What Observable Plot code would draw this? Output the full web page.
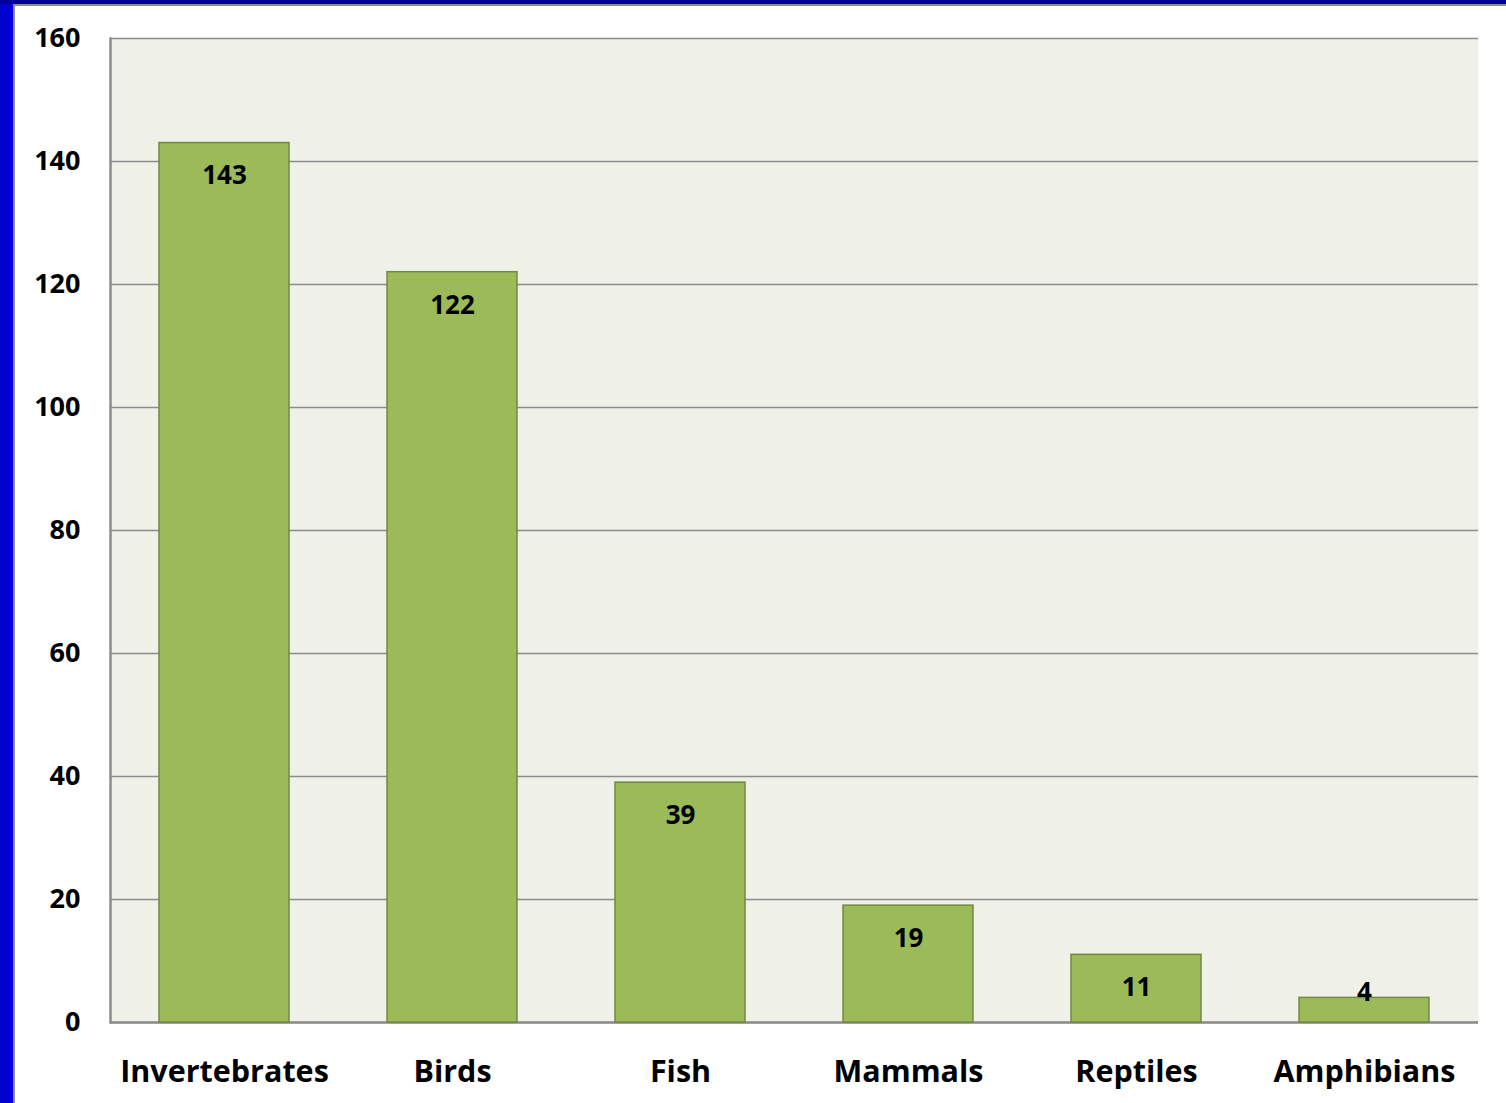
<!DOCTYPE html>
<html>
<head>
<meta charset="utf-8">
<script src="https://cdn.jsdelivr.net/npm/d3@7"></script>
<script src="https://cdn.jsdelivr.net/npm/@observablehq/plot@0.6"></script>
<style>
  html, body { margin: 0; padding: 0; }
  body { width: 1506px; height: 1103px; position: relative; overflow: hidden; background: #ffffff; font-family: "Open Sans", Lato, sans-serif; }
  #blueLeft { position: absolute; left: 0; top: 0; width: 13px; height: 1103px; background: linear-gradient(to right, #0000c8, #0000e0); }
  #blueTop { position: absolute; left: 0; top: 0; width: 1506px; height: 4px; background: #00009a; }
  #grayLeft { position: absolute; left: 13px; top: 4px; width: 2px; height: 1099px; background: #8c8c8c; }
  #grayTop { position: absolute; left: 13px; top: 4px; width: 1493px; height: 2px; background: #8c8c8c; }
  #chart { position: absolute; left: 0; top: 0; }
</style>
</head>
<body>
<div id="blueLeft"></div>
<div id="blueTop"></div>
<div id="grayLeft"></div>
<div id="grayTop"></div>
<div id="chart"></div>
<script>
const categories = ["Invertebrates", "Birds", "Fish", "Mammals", "Reptiles", "Amphibians"];
const counts = [143, 122, 39, 19, 11, 4];
const yTicks = [0, 20, 40, 60, 80, 100, 120, 140, 160];

const data = categories.map((c, i) => ({category: c, value: counts[i]}));
const FONT = "'Open Sans', Lato, sans-serif";

const chart = Plot.plot({
  width: 1506,
  height: 1103,
  marginLeft: 110,
  marginRight: 28,
  marginTop: 38,
  marginBottom: 81,
  style: {background: "transparent", fontFamily: FONT, overflow: "visible"},
  x: {domain: categories, paddingInner: 0.43, paddingOuter: 0.215, label: null},
  y: {domain: [0, 160], label: null},
  marks: [
    Plot.frame({fill: "#eff1e8", stroke: null}),
    Plot.gridY(yTicks, {stroke: "#8c8c8c", strokeOpacity: 1, strokeWidth: 1.6}),
    Plot.frame({anchor: "left", stroke: "#8c8c8c", strokeWidth: 2.5}),
    Plot.ruleY([0], {stroke: "#8c8c8c", strokeWidth: 2.5}),
    Plot.barY(data, {x: "category", y: "value", fill: "#9bbb59", stroke: "#71893f", strokeWidth: 1.5}),
    Plot.text(data.filter(d => d.value >= 8), {x: "category", y: "value", text: d => String(d.value), dy: 33, lineAnchor: "middle", fontSize: 26, fontWeight: "bold", fill: "#000"}),
    Plot.text(data.filter(d => d.value < 8), {x: "category", y: "value", text: d => String(d.value), dy: -5, lineAnchor: "middle", fontSize: 26, fontWeight: "bold", fill: "#000"}),
    Plot.axisY(yTicks, {tickSize: 0, tickPadding: 30, fontSize: 27, fontWeight: "bold", fill: "#000", textAnchor: "end"}),
    Plot.axisX({tickSize: 0, tickPadding: 38, fontSize: 30.5, fontWeight: "bold", fill: "#000", label: null})
  ]
});
document.getElementById("chart").appendChild(chart);
</script>
</body>
</html>
